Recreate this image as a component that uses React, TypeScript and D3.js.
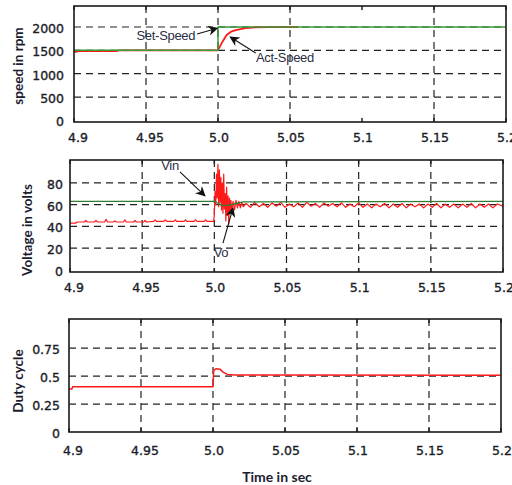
import * as d3 from "d3";

// time axis
const timeTicks = [4.9, 4.95, 5.0, 5.05, 5.1, 5.15, 5.2];
const timeTickLabels = ["4.9", "4.95", "5.0", "5.05", "5.1", "5.15", "5.2"];

// speed panel
const speedTicks = [0, 500, 1000, 1500, 2000];
const setSpeedT = [4.9, 5.0, 5.0, 5.2];
const setSpeedV = [1500, 1500, 2000, 2000];
const actSpeedT = [4.9, 4.902, 4.903, 4.93, 4.931, 5.0, 5.003, 5.006, 5.009, 5.013, 5.019, 5.026, 5.035, 5.056];
const actSpeedV = [1470, 1470, 1485, 1485, 1500, 1500, 1680, 1830, 1900, 1940, 1975, 1990, 1998, 2000];

// voltage panel
const voltTicks = [0, 20, 40, 60, 80];
const vinT = [4.9, 5.0, 5.003, 5.006, 5.01, 5.015, 5.02, 5.2];
const vinV = [63, 63, 61, 59, 59.5, 61, 62.5, 63];
const voPre = [
  [4.9, 43], [4.904, 43], [4.905, 44], [4.91, 44], [4.911, 45.5], [4.912, 44], [4.917, 44], [4.918, 45.5],
  [4.919, 44], [4.924, 44], [4.925, 46.5], [4.926, 44], [4.93, 44], [4.931, 45], [4.932, 44], [4.937, 44],
  [4.938, 46], [4.939, 44], [4.944, 44], [4.945, 45.5], [4.946, 44], [4.951, 44], [4.952, 45.5], [4.953, 44],
  [4.958, 44.5], [4.959, 46], [4.96, 44.5], [4.965, 44.5], [4.966, 46], [4.967, 44.5], [4.972, 44.5],
  [4.973, 46], [4.974, 44.5], [4.979, 44.5], [4.98, 46], [4.981, 44.5], [4.986, 44.5], [4.987, 46],
  [4.988, 44.5], [4.993, 44.5], [4.994, 46], [4.995, 44.5], [4.9995, 44.5],
];
const voTransient = [
  [5.0, 50], [5.0005, 72], [5.001, 60], [5.0015, 88], [5.002, 66], [5.0025, 97], [5.003, 58], [5.0035, 92],
  [5.004, 62], [5.0045, 85], [5.005, 55], [5.0055, 80], [5.006, 52], [5.0065, 88], [5.007, 56], [5.0075, 70],
  [5.008, 45], [5.0085, 76], [5.009, 50], [5.0095, 68], [5.01, 42], [5.0105, 66], [5.011, 52], [5.0115, 64],
  [5.012, 54], [5.013, 63], [5.014, 55], [5.015, 64], [5.016, 57], [5.017, 63], [5.018, 57], [5.019, 62],
];
const voRipple = [
  [5.02, 58], [5.022, 61], [5.025, 57.5], [5.028, 62], [5.031, 58], [5.034, 61], [5.037, 57.5], [5.04, 61.5],
  [5.043, 58.5], [5.046, 62], [5.049, 57.5], [5.052, 60.5], [5.055, 58], [5.058, 61.5], [5.061, 57.5],
  [5.064, 62], [5.067, 58.5], [5.07, 61], [5.073, 57.5], [5.076, 61.5], [5.079, 58.5], [5.082, 61],
  [5.085, 58], [5.088, 61.5], [5.091, 57.5], [5.094, 60.5], [5.097, 58], [5.1, 61.5], [5.103, 57.5],
  [5.106, 60.5], [5.109, 57], [5.112, 60.5], [5.115, 58], [5.118, 61], [5.121, 57], [5.124, 60.5],
  [5.127, 57.5], [5.13, 61], [5.133, 57], [5.136, 60.5], [5.139, 58], [5.142, 60.5], [5.145, 57],
  [5.148, 60.5], [5.151, 57.5], [5.154, 61], [5.157, 57], [5.16, 60.5], [5.163, 57.5], [5.166, 60.5],
  [5.169, 57], [5.172, 60.5], [5.175, 57.5], [5.178, 61], [5.181, 57], [5.184, 60.5], [5.187, 57.5],
  [5.19, 60.5], [5.193, 57], [5.196, 60.5], [5.2, 58.5],
];

// duty panel
const dutyTicks = [0, 0.25, 0.5, 0.75];
const dutyTickLabels = ["0", "0.25", "0.5", "0.75"];
const dutyT = [4.9, 4.902, 4.9025, 5.0, 5.0005, 5.002, 5.005, 5.007, 5.01, 5.015, 5.2];
const dutyV = [0.385, 0.385, 0.405, 0.405, 0.55, 0.565, 0.56, 0.535, 0.515, 0.51, 0.507];

const tickFont = "'DejaVu Sans', Verdana, sans-serif";
const titleFont = "Lato, 'Open Sans', sans-serif";
const noteFont = "'Liberation Sans Narrow', 'Arial Narrow', 'Liberation Sans', sans-serif";
const GREEN = "#379c3a";
const RED = "#ff1a1a";

type Series = { pts: [number, number][]; color: string; width: number };
type Note = { text: string; tx: number; ty: number; from: [number, number]; to: [number, number] };

type PanelCfg = {
  x0: number; x1: number; yTop: number; yBot: number;
  yDomain: [number, number];
  yTicks: number[]; yLabels: string[];
  vGrid: number[];
  labelRight: number; xLabelY: number;
  title: string; titleX: number; titleY: number;
  series: Series[]; notes: Note[];
};

const zip = (a: number[], b: number[]) => a.map((t, i) => [t, b[i]] as [number, number]);

const panels: PanelCfg[] = [
  {
    x0: 74, x1: 506, yTop: 6, yBot: 122, yDomain: [-35, 2450],
    yTicks: speedTicks, yLabels: speedTicks.map(String),
    vGrid: [4.95, 5.0, 5.05, 5.15],
    labelRight: 64, xLabelY: 142,
    title: "speed in rpm", titleX: 18, titleY: 66,
    series: [
      { pts: zip(actSpeedT, actSpeedV), color: RED, width: 1.8 },
      { pts: zip(setSpeedT, setSpeedV), color: GREEN, width: 1.5 },
    ],
    notes: [
      { text: "Set-Speed", tx: 4.9638, ty: 1715, from: [4.9855, 1851], to: [4.9995, 1975] },
      { text: "Act-Speed", tx: 5.0465, ty: 1250, from: [5.0262, 1444], to: [5.0085, 1787] },
    ],
  },
  {
    x0: 70, x1: 503, yTop: 160, yBot: 272, yDomain: [-2, 101],
    yTicks: voltTicks, yLabels: voltTicks.map(String),
    vGrid: [4.95, 5.0, 5.05, 5.1, 5.15],
    labelRight: 63, xLabelY: 292,
    title: "Voltage in volts", titleX: 27, titleY: 230,
    series: [
      { pts: [...voPre, ...voTransient, ...voRipple] as [number, number][], color: RED, width: 1.2 },
      { pts: zip(vinT, vinV), color: "#2e7d32", width: 1.3 },
    ],
    notes: [
      { text: "Vin", tx: 4.9693, ty: 92, from: [4.9762, 90], to: [4.9935, 68] },
      { text: "Vo", tx: 5.0046, ty: 11.8, from: [5.006, 24.6], to: [5.0129, 56.8] },
    ],
  },
  {
    x0: 69, x1: 501, yTop: 319, yBot: 432, yDomain: [0, 1.01],
    yTicks: dutyTicks, yLabels: dutyTickLabels,
    vGrid: [4.95, 5.0, 5.05, 5.1, 5.15],
    labelRight: 60, xLabelY: 455,
    title: "Duty cycle", titleX: 18, titleY: 381,
    series: [{ pts: zip(dutyT, dutyV), color: RED, width: 1.5 }],
    notes: [],
  },
];

const Panel = ({ cfg, idx }: { cfg: PanelCfg; idx: number }) => {
  const x = d3.scaleLinear().domain([4.9, 5.2]).range([cfg.x0, cfg.x1]);
  const y = d3.scaleLinear().domain(cfg.yDomain).range([cfg.yBot, cfg.yTop]);
  const line = d3.line<[number, number]>().x((d) => x(d[0])).y((d) => y(d[1]));
  const clipId = `clip${idx}`;

  return (
    <g>
      <defs>
        <clipPath id={clipId}>
          <rect x={cfg.x0} y={cfg.yTop} width={cfg.x1 - cfg.x0} height={cfg.yBot - cfg.yTop} />
        </clipPath>
      </defs>
      {/* grid */}
      {cfg.yTicks.filter((v) => v > 0).map((v) => (
        <line key={"h" + v} x1={cfg.x0} x2={cfg.x1} y1={y(v)} y2={y(v)}
          stroke="#222" strokeWidth={1.2} strokeDasharray="7,5" />
      ))}
      {cfg.vGrid.map((t) => (
        <line key={"v" + t} x1={x(t)} x2={x(t)} y1={cfg.yTop} y2={cfg.yBot}
          stroke="#222" strokeWidth={1.2} strokeDasharray="7,5" />
      ))}
      {timeTicks.map((t) => (
        <g key={"tk" + t}>
          <line x1={x(t)} x2={x(t)} y1={cfg.yTop} y2={cfg.yTop + 4} stroke="#222" strokeWidth={1.5} />
          <line x1={x(t)} x2={x(t)} y1={cfg.yBot} y2={cfg.yBot - 4} stroke="#222" strokeWidth={1.5} />
        </g>
      ))}
      {/* series */}
      <g clipPath={`url(#${clipId})`}>
        {cfg.series.map((s, i) => (
          <path key={i} d={line(s.pts) || ""} fill="none" stroke={s.color} strokeWidth={s.width}
            strokeLinejoin="round" />
        ))}
      </g>
      {/* frame */}
      <rect x={cfg.x0} y={cfg.yTop} width={cfg.x1 - cfg.x0} height={cfg.yBot - cfg.yTop}
        fill="none" stroke="#1a1a1a" strokeWidth={1.6} />
      {/* y tick labels */}
      {cfg.yTicks.map((v, i) => (
        <text key={"yl" + v} x={cfg.labelRight} y={y(v) + 6} textAnchor="end"
          fontFamily={tickFont} fontSize={12.5} fill="#1c1c28" stroke="#1c1c28" strokeWidth={0.35}>
          {cfg.yLabels[i]}
        </text>
      ))}
      {/* x tick labels */}
      {timeTicks.map((t, i) => (
        <text key={"xl" + t} x={x(t) + (i < 2 ? 4 : 1)} y={cfg.xLabelY} textAnchor="middle"
          fontFamily={tickFont} fontSize={12.5} fill="#1c1c28" stroke="#1c1c28" strokeWidth={0.35}>
          {timeTickLabels[i]}
        </text>
      ))}
      {/* y title */}
      <text transform={`translate(${cfg.titleX},${cfg.titleY}) rotate(-90)`} textAnchor="middle"
        dy="0.35em" fontFamily={titleFont} fontWeight="bold" fontSize={13.5} fill="#1c1c30">
        {cfg.title}
      </text>
      {/* annotations */}
      {cfg.notes.map((n) => (
        <g key={n.text}>
          <line x1={x(n.from[0])} y1={y(n.from[1])} x2={x(n.to[0])} y2={y(n.to[1])}
            stroke="#111" strokeWidth={1.1} markerEnd="url(#arrowhead)" />
          <text x={x(n.tx)} y={y(n.ty)} textAnchor="middle" fontFamily={noteFont} fontSize={13}
            fill="#2b2f45" letterSpacing={-0.3}>
            {n.text}
          </text>
        </g>
      ))}
    </g>
  );
};

export default function App() {
  return (
    <svg width={512} height={485} style={{ position: "absolute", left: 0, top: 0, background: "#fff" }}>
      <defs>
        <marker id="arrowhead" viewBox="0 0 10 10" refX={9} refY={5} markerWidth={12} markerHeight={10}
          markerUnits="userSpaceOnUse" orient="auto">
          <path d="M0,0 L10,5 L0,10 L3,5 Z" fill="#111" />
        </marker>
      </defs>
      {panels.map((p, i) => (
        <Panel key={i} cfg={p} idx={i} />
      ))}
      <text x={277} y={482} textAnchor="middle" fontFamily={titleFont} fontWeight="bold" fontSize={14}
        fill="#1c1c30">
        Time in sec
      </text>
    </svg>
  );
}
